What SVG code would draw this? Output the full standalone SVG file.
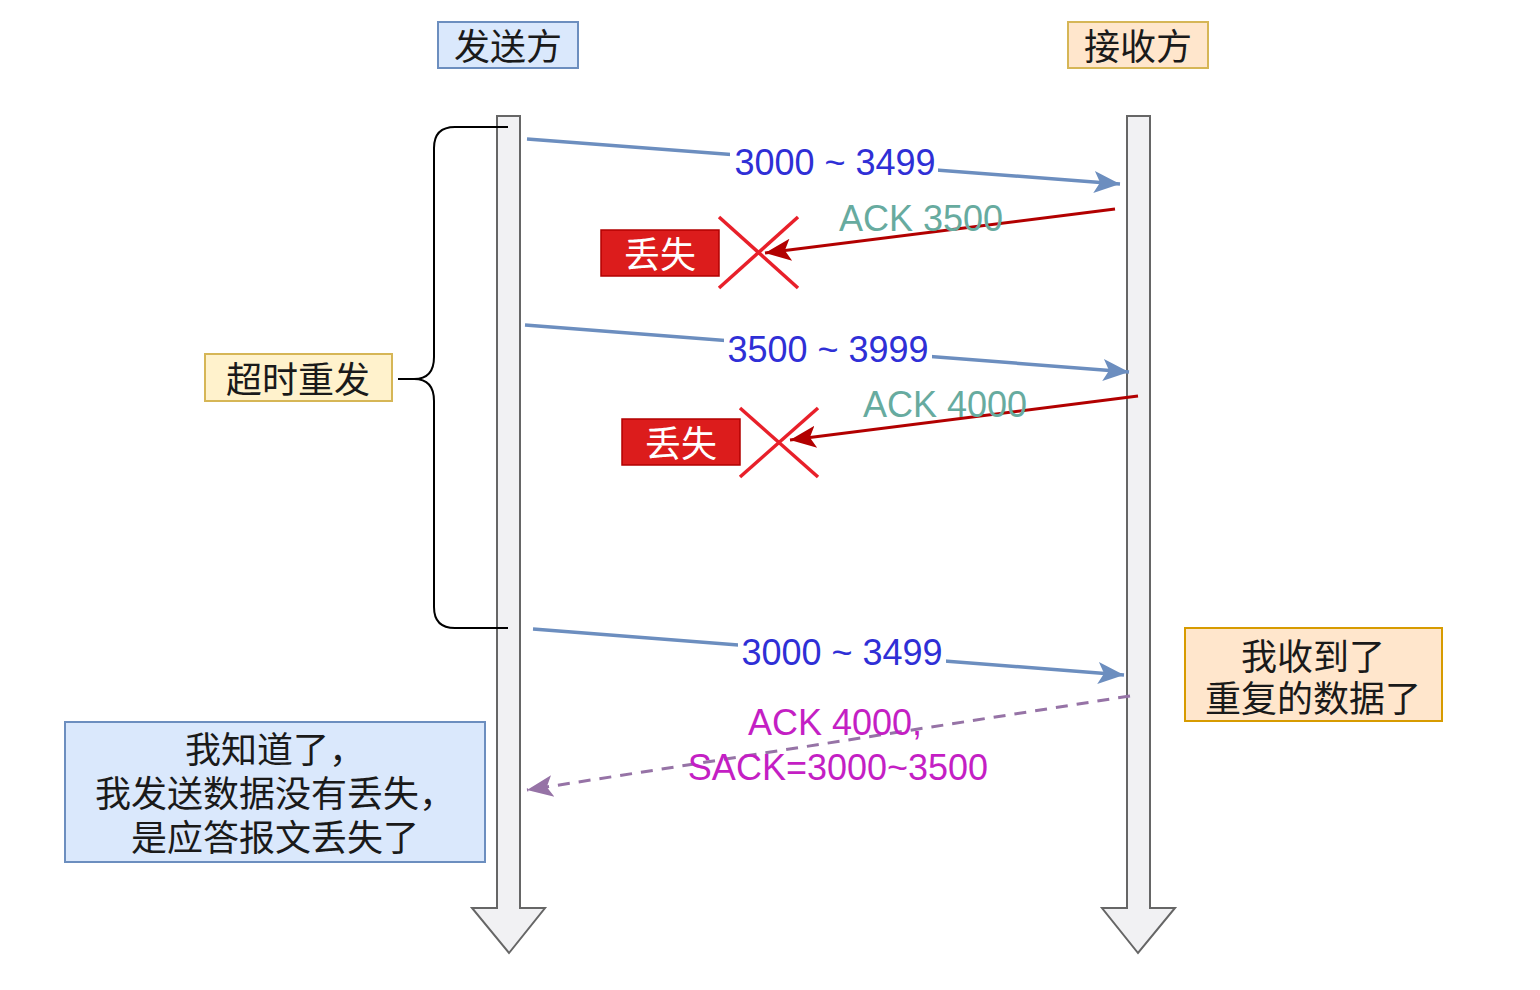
<svg xmlns="http://www.w3.org/2000/svg" width="1540" height="990" viewBox="0 0 1540 990">
<style>
.cjk{font-family:"Liberation Sans","Noto Sans CJK SC",sans-serif;font-size:36px;fill:#1a1a1a;text-anchor:middle;dominant-baseline:central}
.num{font-family:"Liberation Sans",Arial,sans-serif;font-size:36px;text-anchor:middle;dominant-baseline:central}
.life{fill:#f1f1f3;stroke:#666666;stroke-width:2}
.blue{stroke:#6c8ebf;stroke-width:3.5;fill:none}
.red{stroke:#b20000;stroke-width:3;fill:none}
.xmark{stroke:#e8202a;stroke-width:3.5}
.lost{fill:#dc1c1c;stroke:#b20000;stroke-width:1.5}
</style>
<defs>
<marker id="ab" markerUnits="userSpaceOnUse" markerWidth="30" markerHeight="30" viewBox="0 0 30 30" refX="26" refY="15" orient="auto">
<path d="M0,4 L26,15 L0,26 L6,15 Z" fill="#6c8ebf"/>
</marker>
<marker id="ar" markerUnits="userSpaceOnUse" markerWidth="30" markerHeight="30" viewBox="0 0 30 30" refX="26" refY="15" orient="auto">
<path d="M0,4 L26,15 L0,26 L6,15 Z" fill="#b20000"/>
</marker>
<marker id="ap" markerUnits="userSpaceOnUse" markerWidth="30" markerHeight="30" viewBox="0 0 30 30" refX="26" refY="15" orient="auto">
<path d="M0,4 L26,15 L0,26 L6,15 Z" fill="#9673a6"/>
</marker>
</defs>
<rect width="1540" height="990" fill="#ffffff"/>

<g id="sender-life"><path class="life" d="M497,116 H520 V908 H545 L509,953 L472,908 H497 Z"/></g>
<g id="receiver-life"><path class="life" d="M1127,116 H1150 V908 H1175 L1138,953 L1102,908 H1127 Z"/></g>

<g id="sender">
<rect x="438" y="22" width="140" height="46" fill="#dae8fc" stroke="#6c8ebf" stroke-width="2"/>
<text class="cjk" x="508" y="47">发送方</text>
</g>
<g id="receiver">
<rect x="1068" y="22" width="140" height="46" fill="#ffe6cc" stroke="#d6b656" stroke-width="2"/>
<text class="cjk" x="1138" y="47">接收方</text>
</g>

<g id="brace">
<path d="M508,127 H455 Q434,127 434,148 V357 Q434,379 414,379 H398 M414,379 Q434,379 434,401 V607 Q434,628 455,628 H508" fill="none" stroke="#000000" stroke-width="2"/>
</g>
<g id="timeout">
<rect x="205" y="354" width="187" height="47" fill="#fff2cc" stroke="#d6b656" stroke-width="2"/>
<text class="cjk" x="298" y="380">超时重发</text>
</g>

<g id="connectors">
<line class="blue" x1="527" y1="139" x2="1120" y2="184" marker-end="url(#ab)"/>
<line class="red" x1="1115" y1="209" x2="765" y2="253" marker-end="url(#ar)"/>
<line class="blue" x1="525" y1="325" x2="1129" y2="372" marker-end="url(#ab)"/>
<line class="red" x1="1138" y1="396" x2="790" y2="440" marker-end="url(#ar)"/>
<line class="blue" x1="533" y1="629" x2="1124" y2="675" marker-end="url(#ab)"/>
<line x1="1130" y1="696" x2="527" y2="790" stroke="#9673a6" stroke-width="3" stroke-dasharray="12 9" marker-end="url(#ap)"/>
</g>

<g id="label-seg1">
<rect x="730" y="146" width="208" height="32" fill="#ffffff"/>
<text class="num" x="835" y="162" fill="#2f2fd6">3000 ~ 3499</text>
</g>
<g id="label-ack1"><text class="num" x="921" y="218" fill="#67ab9f">ACK 3500</text></g>
<g id="label-seg2">
<rect x="724" y="333" width="208" height="32" fill="#ffffff"/>
<text class="num" x="828" y="349" fill="#2f2fd6">3500 ~ 3999</text>
</g>
<g id="label-ack2"><text class="num" x="945" y="404" fill="#67ab9f">ACK 4000</text></g>
<g id="label-seg3">
<rect x="738" y="636" width="208" height="32" fill="#ffffff"/>
<text class="num" x="842" y="652" fill="#2f2fd6">3000 ~ 3499</text>
</g>
<g id="label-sack">
<text class="num" fill="#c41fc4"><tspan x="835" y="722">ACK 4000,</tspan><tspan x="838" y="767">SACK=3000~3500</tspan></text>
</g>

<g id="lost1">
<line class="xmark" x1="719" y1="217" x2="798" y2="288"/>
<line class="xmark" x1="798" y1="217" x2="719" y2="288"/>
<rect class="lost" x="601" y="230" width="118" height="46"/>
<text class="cjk" x="660" y="255" style="fill:#ffffff">丢失</text>
</g>
<g id="lost2">
<line class="xmark" x1="740" y1="408" x2="818" y2="477"/>
<line class="xmark" x1="818" y1="408" x2="740" y2="477"/>
<rect class="lost" x="622" y="419" width="118" height="46"/>
<text class="cjk" x="681" y="444" style="fill:#ffffff">丢失</text>
</g>

<g id="dup-note">
<rect x="1185" y="628" width="257" height="93" fill="#ffe6cc" stroke="#d79b00" stroke-width="2"/>
<text class="cjk"><tspan x="1313" y="657">我收到了</tspan><tspan x="1313" y="699">重复的数据了</tspan></text>
</g>
<g id="know-note">
<rect x="65" y="722" width="420" height="140" fill="#dae8fc" stroke="#6c8ebf" stroke-width="2"/>
<text class="cjk"><tspan x="275" y="750">我知道了，</tspan><tspan x="275" y="794">我发送数据没有丢失，</tspan><tspan x="275" y="838">是应答报文丢失了</tspan></text>
</g>
</svg>
